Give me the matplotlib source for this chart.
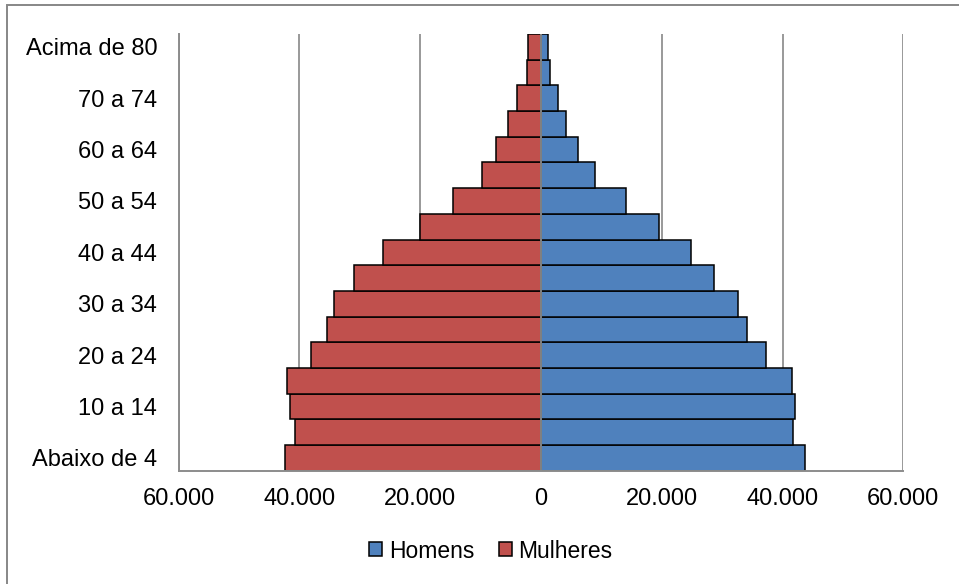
import matplotlib.pyplot as plt
from matplotlib.patches import Patch, Rectangle
from matplotlib.ticker import FuncFormatter

plt.rcParams['font.family'] = ['Liberation Sans', 'DejaVu Sans']

# faixas etárias, de baixo para cima
faixas = ["Abaixo de 4", "5 a 9", "10 a 14", "15 a 19", "20 a 24", "25 a 29",
          "30 a 34", "35 a 39", "40 a 44", "45 a 49", "50 a 54", "55 a 59",
          "60 a 64", "65 a 69", "70 a 74", "75 a 79", "Acima de 80"]
homens = [43800, 41700, 42000, 41600, 37200, 34100, 32600, 28600, 24900,
          19600, 14000, 9000, 6200, 4200, 2800, 1500, 1100]
mulheres = [42400, 40800, 41500, 42000, 38100, 35500, 34200, 30900, 26100,
            20000, 14500, 9700, 7500, 5500, 3900, 2300, 2200]

AZUL = "#4F81BD"
VERMELHO = "#C0504D"
CINZA = "#8C8C8C"

fig = plt.figure(figsize=(9.59, 5.84), dpi=100)
ax = fig.add_axes([0.1863, 0.194, 0.9419 - 0.1863, 0.9418 - 0.194])

y = range(len(faixas))
ax.barh(y, homens, height=1.0, color=AZUL, edgecolor="black", linewidth=1.1, zorder=2)
ax.barh(y, [-m for m in mulheres], height=1.0, color=VERMELHO, edgecolor="black",
        linewidth=1.1, zorder=2)
ax.axvline(0, color=CINZA, linewidth=1.3, zorder=3)

ax.set_xlim(-60000, 60000)
ax.set_ylim(-0.5, len(faixas) - 0.5)
ax.set_xticks(range(-60000, 60001, 20000))
ax.xaxis.set_major_formatter(FuncFormatter(lambda v, _: f"{abs(int(v)):,}".replace(",", ".")))
ax.set_yticks(list(y)[::2])
ax.set_yticklabels(faixas[::2])

ax.grid(axis="x", color="#999999", linewidth=1.4, zorder=0)
ax.set_axisbelow(True)
for lado in ("top", "right"):
    ax.spines[lado].set_visible(False)
for lado in ("left", "bottom"):
    ax.spines[lado].set_color(CINZA)
    ax.spines[lado].set_linewidth(1.4)

ax.tick_params(axis="both", length=0, labelsize=17)
ax.tick_params(axis="x", pad=12.5)
ax.tick_params(axis="y", pad=15.5)

handles = [Patch(facecolor=AZUL, edgecolor="black", linewidth=1.1, label="Homens"),
           Patch(facecolor=VERMELHO, edgecolor="black", linewidth=1.1, label="Mulheres")]
fig.legend(handles=handles, loc="center", bbox_to_anchor=(491 / 959, 1 - 551 / 584),
           ncol=2, frameon=False, fontsize=16.5, handlelength=0.57, handleheight=0.57,
           handletextpad=0.3, columnspacing=1.05, borderpad=0)

# moldura do gráfico
fig.patches.append(Rectangle((7 / 959, -0.1), 1.1, 1.1 - 5 / 584, transform=fig.transFigure,
                             fill=False, edgecolor="#878787", linewidth=1.4))

fig.savefig("out.png", dpi=100, facecolor="white")
